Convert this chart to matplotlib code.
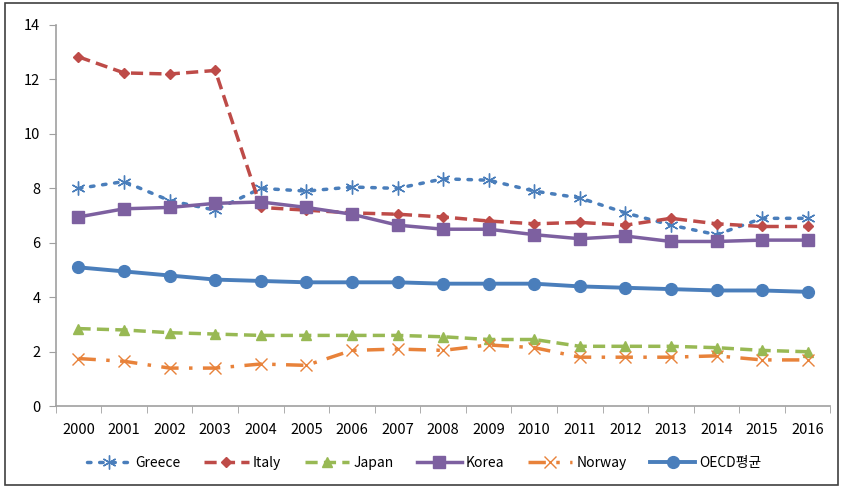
"""Line chart: rates by country, 2000-2016, with the OECD average."""
import matplotlib
matplotlib.use("Agg")
import matplotlib.pyplot as plt
from matplotlib.patches import Rectangle

plt.rcParams["font.family"] = ["Noto Sans CJK KR", "DejaVu Sans"]

years = [str(y) for y in range(2000, 2017)]

greece = [8.0, 8.25, 7.55, 7.2, 8.0, 7.9, 8.05, 8.0, 8.35, 8.3, 7.9, 7.65, 7.1, 6.65, 6.3, 6.9, 6.9]
italy = [12.83, 12.24, 12.2, 12.33, 7.3, 7.2, 7.1, 7.05, 6.95, 6.8, 6.7, 6.75, 6.65, 6.9, 6.7, 6.6, 6.6]
japan = [2.85, 2.8, 2.7, 2.65, 2.6, 2.6, 2.6, 2.6, 2.55, 2.45, 2.45, 2.2, 2.2, 2.2, 2.15, 2.05, 2.0]
korea = [6.95, 7.25, 7.3, 7.45, 7.5, 7.3, 7.05, 6.65, 6.5, 6.5, 6.3, 6.15, 6.25, 6.05, 6.05, 6.1, 6.1]
norway = [1.75, 1.65, 1.4, 1.4, 1.55, 1.5, 2.05, 2.1, 2.05, 2.25, 2.15, 1.8, 1.8, 1.8, 1.85, 1.7, 1.7]
oecd = [5.1, 4.95, 4.8, 4.65, 4.6, 4.55, 4.55, 4.55, 4.5, 4.5, 4.5, 4.4, 4.35, 4.3, 4.25, 4.25, 4.2]

fig = plt.figure(figsize=(8.44, 4.9), dpi=100)
ax = fig.add_axes([0.066, 0.171, 0.918, 0.778])

x = list(range(len(years)))

ax.plot(x, greece, color="#4A7EBB", linestyle=(0, (1, 2.5)), linewidth=2.5,
        dash_capstyle="round", marker=(6, 2, 0), markersize=10,
        markeredgewidth=1.0, label="Greece")
ax.plot(x, italy, color="#BE4B48", linestyle=(0, (3.5, 1.8)), linewidth=2.5,
        marker="D", markersize=5.5, label="Italy")
ax.plot(x, japan, color="#98B954", linestyle=(0, (3.5, 1.8)), linewidth=2.5,
        marker="^", markersize=7.5, label="Japan")
ax.plot(x, korea, color="#7D60A0", linestyle="-", linewidth=2.5,
        marker="s", markersize=9, label="Korea")
ax.plot(x, norway, color="#E8823A", linestyle=(0, (5, 3, 1, 3)), linewidth=2.5,
        marker="x", markersize=8, markeredgewidth=1.0, label="Norway")
ax.plot(x, oecd, color="#4A7EBB", linestyle="-", linewidth=2.8,
        marker="o", markersize=8.5, label="OECD평균")

ax.set_xlim(-0.5, len(years) - 0.5)
ax.set_ylim(0, 14)
ax.set_yticks(range(0, 15, 2))
ax.set_xticks(x)
ax.set_xticklabels(years)
ax.set_xticks([i - 0.5 for i in range(len(years) + 1)], minor=True)
ax.tick_params(axis="x", which="major", length=0, pad=12, labelsize=10.5)
ax.tick_params(axis="x", which="minor", length=5, color="#A0A0A0", direction="out")
ax.tick_params(axis="y", length=5, color="#A0A0A0", labelsize=10.5, pad=6)

for side in ("top", "right"):
    ax.spines[side].set_visible(False)
for side in ("left", "bottom"):
    ax.spines[side].set_color("#A0A0A0")
    ax.spines[side].set_linewidth(1.2)

fig.legend(loc="center left", bbox_to_anchor=(0.088, 0.055), ncol=6,
           frameon=False, fontsize=10, handlelength=3.2, columnspacing=1.7,
           handletextpad=0.3)

fig.patches.append(Rectangle((0.006, 0.01), 0.987, 0.983, transform=fig.transFigure,
                             fill=False, edgecolor="#404040", linewidth=1.2))

fig.savefig("out.png", dpi=100)
